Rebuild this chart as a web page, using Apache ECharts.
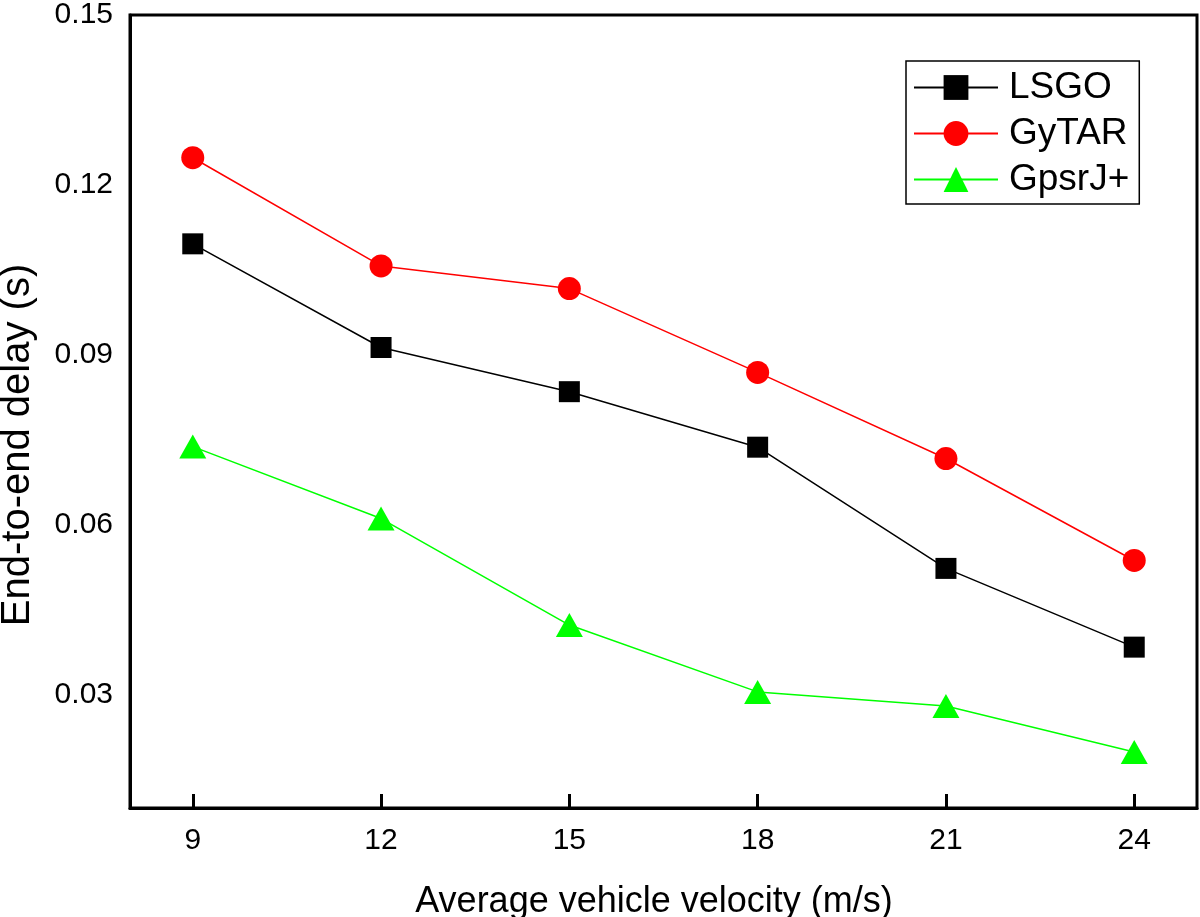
<!DOCTYPE html>
<html>
<head>
<meta charset="utf-8">
<script src="https://cdn.jsdelivr.net/npm/echarts@6/dist/echarts.min.js"></script>
<style>
html,body{margin:0;padding:0;background:#fff;}
#chart{width:1200px;height:917px;}
</style>
</head>
<body>
<div id="chart"></div>
<script>
const velocities = [9, 12, 15, 18, 21, 24];
const lsgo   = [0.1096, 0.0913, 0.0835, 0.0737, 0.0523, 0.0384];
const gytar  = [0.1248, 0.1057, 0.1017, 0.0869, 0.0717, 0.0537];
const gpsrj  = [0.0738, 0.0611, 0.0423, 0.0305, 0.0280, 0.0199];
const xTicks = [9, 12, 15, 18, 21, 24];
const yTicks = [0.03, 0.06, 0.09, 0.12, 0.15];
const seriesNames = ['LSGO', 'GyTAR', 'GpsrJ+'];
const xTitle = 'Average vehicle velocity (m/s)';
const yTitle = 'End-to-end delay (s)';

const FONT = '"Liberation Sans", Arial, sans-serif';
const pair = arr => velocities.map((v, i) => [v, arr[i]]);

const chart = echarts.init(document.getElementById('chart'), null, {renderer: 'canvas'});
chart.setOption({
  animation: false,
  backgroundColor: '#fff',
  grid: {left: 130, right: 3, top: 14, bottom: 109, show: true, borderColor: '#000', borderWidth: 3, containLabel: false},
  xAxis: {
    type: 'value', min: 8, max: 25,
    axisLine: {show: true, lineStyle: {color: '#000', width: 3}},
    axisTick: {show: true, inside: true, length: 14, lineStyle: {color: '#000', width: 3}, customValues: xTicks},
    axisLabel: {customValues: xTicks, color: '#000', fontFamily: FONT, fontSize: 30, margin: 18},
    splitLine: {show: false}
  },
  yAxis: {
    type: 'value', min: 0.01, max: 0.15,
    axisLine: {show: true, lineStyle: {color: '#000', width: 3}},
    axisTick: {show: false},
    axisLabel: {customValues: yTicks, color: '#000', fontFamily: FONT, fontSize: 30, margin: 17,
      formatter: v => v.toFixed(2)},
    splitLine: {show: false}
  },
  legend: {
    orient: 'vertical', left: 906, top: 61,
    padding: [8, 10, 6, 7], itemGap: 9,
    itemWidth: 84, itemHeight: 31,
    borderColor: '#000', borderWidth: 1.5,
    textStyle: {color: '#000', fontFamily: FONT, fontSize: 37, padding: [0, 0, 0, 6]},
    data: seriesNames
  },
  graphic: [
    {type: 'text', x: 654, y: 902, style: {text: xTitle, font: '36px ' + FONT, fill: '#000', align: 'center', verticalAlign: 'middle'}},
    {type: 'text', x: 18, y: 445, rotation: Math.PI / 2, style: {text: yTitle, font: '40px ' + FONT, fill: '#000', align: 'center', verticalAlign: 'middle'}}
  ],
  series: [
    {name: seriesNames[0], type: 'line', data: pair(lsgo), symbol: 'rect', symbolSize: 21,
     lineStyle: {color: '#000', width: 1.5}, itemStyle: {color: '#000'}},
    {name: seriesNames[1], type: 'line', data: pair(gytar), symbol: 'circle', symbolSize: 23,
     lineStyle: {color: '#ff0000', width: 1.5}, itemStyle: {color: '#ff0000'}},
    {name: seriesNames[2], type: 'line', data: pair(gpsrj), symbol: 'triangle', symbolSize: [27, 24],
     lineStyle: {color: '#00ff00', width: 1.5}, itemStyle: {color: '#00ff00'}}
  ]
});
</script>
</body>
</html>
